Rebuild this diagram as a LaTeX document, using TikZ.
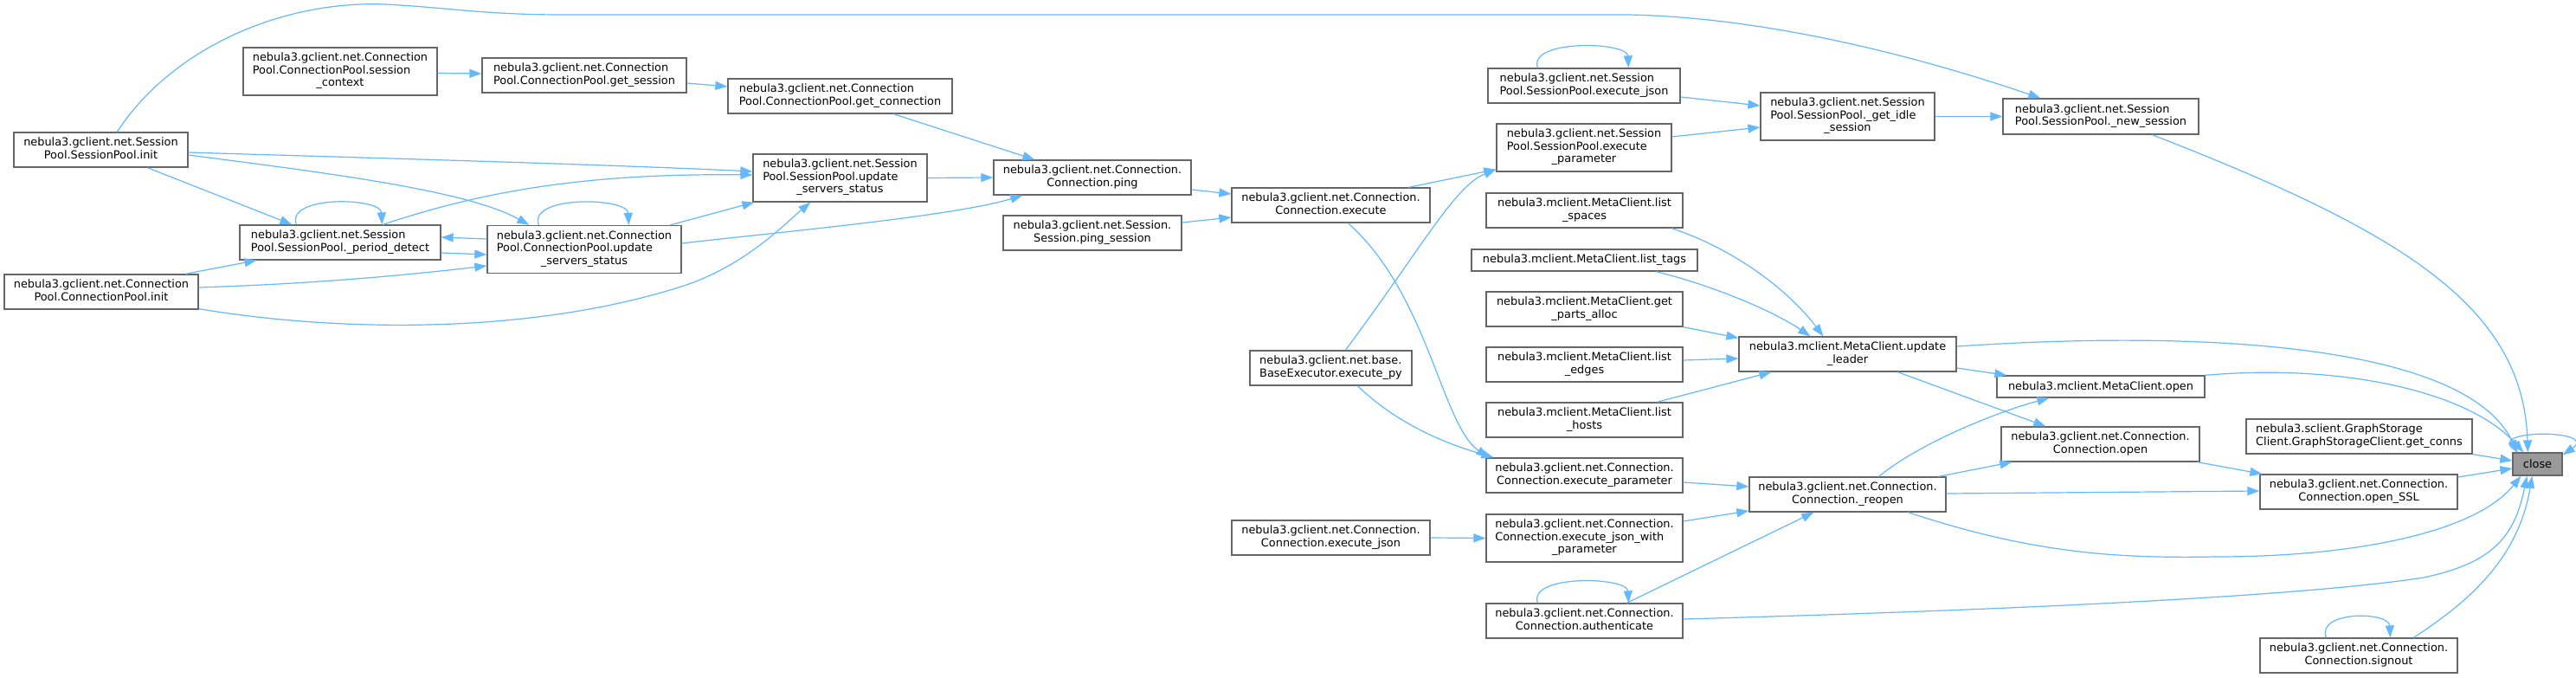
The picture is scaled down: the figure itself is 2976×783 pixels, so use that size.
\documentclass[tikz,border=0pt]{standalone}
\usepackage{fontspec}
\setmainfont{DejaVu Sans}
\usetikzlibrary{arrows.meta}
\definecolor{edgeblue}{HTML}{63B8FF}
\definecolor{nodeborder}{HTML}{666666}
\definecolor{rootfill}{HTML}{999999}
\newcommand{\twol}[2]{\begin{tabular}{@{}l@{}}#1\\\multicolumn{1}{@{}c@{}}{#2}\end{tabular}}
\tikzset{
  fnode/.style={draw=nodeborder, line width=1.3pt, fill=white, inner sep=0pt,
    font=\fontsize{12.9}{14.5}\selectfont, text=black},
  rootnode/.style={fnode, fill=rootfill},
  sz/.style 2 args={minimum width=#1pt, minimum height=#2pt},
  call/.style={draw=edgeblue, line width=1.2pt, -{Triangle[length=14pt,width=10pt]}},
}
\begin{document}
\begin{tikzpicture}[x=1pt,y=-1pt]
\fill[white] (0,0) rectangle (2976,783);
\useasboundingbox (0,0) rectangle (2976,783);
% nodes
\node[fnode, sz={201}{40}] (spinit) at (116.5,173) {\twol{nebula3.gclient.net.Session}{Pool.SessionPool.init}};
\node[fnode, sz={224}{55}] (sesctx) at (393,82.5) {\twol{nebula3.gclient.net.Connection\\Pool.ConnectionPool.session}{\_context}};
\node[fnode, sz={236}{40}] (getsess) at (675,87) {\twol{nebula3.gclient.net.Connection}{Pool.ConnectionPool.get\_session}};
\node[fnode, sz={259}{40}] (getconn) at (970.5,111) {\twol{nebula3.gclient.net.Connection}{Pool.ConnectionPool.get\_connection}};
\node[fnode, sz={201}{55}] (spuss) at (970.5,205.5) {\twol{nebula3.gclient.net.Session\\Pool.SessionPool.update}{\_servers\_status}};
\node[fnode, sz={232}{40}] (pdet) at (393,280) {\twol{nebula3.gclient.net.Session}{Pool.SessionPool.\_period\_detect}};
\node[fnode, sz={224}{55}] (cpuss) at (675,288) {\twol{nebula3.gclient.net.Connection\\Pool.ConnectionPool.update}{\_servers\_status}};
\node[fnode, sz={224}{40}] (cpinit) at (117,337) {\twol{nebula3.gclient.net.Connection}{Pool.ConnectionPool.init}};
\node[fnode, sz={228}{40}] (ping) at (1262,205) {\twol{nebula3.gclient.net.Connection.}{Connection.ping}};
\node[fnode, sz={206}{40}] (pingsess) at (1262,269) {\twol{nebula3.gclient.net.Session.}{Session.ping\_session}};
\node[fnode, sz={229}{40}] (execute) at (1537.5,237) {\twol{nebula3.gclient.net.Connection.}{Connection.execute}};
\node[fnode, sz={222}{40}] (spejson) at (1830,99) {\twol{nebula3.gclient.net.Session}{Pool.SessionPool.execute\_json}};
\node[fnode, sz={202}{55}] (spepar) at (1830,170.5) {\twol{nebula3.gclient.net.Session\\Pool.SessionPool.execute}{\_parameter}};
\node[fnode, sz={227}{40}] (lspaces) at (1830.5,243) {\twol{nebula3.mclient.MetaClient.list}{\_spaces}};
\node[fnode, sz={261}{25}] (ltags) at (1830.5,300.5) {nebula3.mclient.MetaClient.list\_tags};
\node[fnode, sz={227}{40}] (partsalloc) at (1830.5,357) {\twol{nebula3.mclient.MetaClient.get}{\_parts\_alloc}};
\node[fnode, sz={227}{40}] (ledges) at (1830.5,421) {\twol{nebula3.mclient.MetaClient.list}{\_edges}};
\node[fnode, sz={227}{40}] (lhosts) at (1830.5,485) {\twol{nebula3.mclient.MetaClient.list}{\_hosts}};
\node[fnode, sz={227}{40}] (cepar) at (1830.5,549) {\twol{nebula3.gclient.net.Connection.}{Connection.execute\_parameter}};
\node[fnode, sz={227}{55}] (cejwp) at (1830.5,621.5) {\twol{nebula3.gclient.net.Connection.\\Connection.execute\_json\_with}{\_parameter}};
\node[fnode, sz={227}{40}] (auth) at (1830.5,717) {\twol{nebula3.gclient.net.Connection.}{Connection.authenticate}};
\node[fnode, sz={187}{40}] (execpy) at (1537.5,425) {\twol{nebula3.gclient.net.base.}{BaseExecutor.execute\_py}};
\node[fnode, sz={229}{40}] (cejson) at (1537.5,621) {\twol{nebula3.gclient.net.Connection.}{Connection.execute\_json}};
\node[fnode, sz={201}{55}] (getidle) at (2134.5,134.5) {\twol{nebula3.gclient.net.Session\\Pool.SessionPool.\_get\_idle}{\_session}};
\node[fnode, sz={226}{41}] (newsess) at (2427,134.5) {\twol{nebula3.gclient.net.Session}{Pool.SessionPool.\_new\_session}};
\node[fnode, sz={251}{40}] (updleader) at (2134.5,409) {\twol{nebula3.mclient.MetaClient.update}{\_leader}};
\node[fnode, sz={240}{25}] (mcopen) at (2427,446.5) {nebula3.mclient.MetaClient.open};
\node[fnode, sz={229}{40}] (copen) at (2426.5,513) {\twol{nebula3.gclient.net.Connection.}{Connection.open}};
\node[fnode, sz={261}{40}] (getconns) at (2725.5,504) {\twol{nebula3.sclient.GraphStorage}{Client.GraphStorageClient.get\_conns}};
\node[rootnode, sz={57}{26}] (close) at (2931.5,536) {close};
\node[fnode, sz={228}{40}] (openssl) at (2725,568) {\twol{nebula3.gclient.net.Connection.}{Connection.open\_SSL}};
\node[fnode, sz={227}{40}] (reopen) at (2134.5,571) {\twol{nebula3.gclient.net.Connection.}{Connection.\_reopen}};
\node[fnode, sz={228}{40}] (signout) at (2725,757) {\twol{nebula3.gclient.net.Connection.}{Connection.signout}};
% edges
\draw[call] ([xshift=120pt]spinit.north west) .. controls (195,60) and (320,0) .. (446,5) .. controls (520,9) and (560,17) .. (650,17) -- (1880,17) .. controls (2050,20) and (2230,70) .. ([xshift=44pt]newsess.north west);
\draw[call] ([yshift=-3pt]spinit.east) .. controls (450,183) and (700,190) .. ([yshift=7.5pt]spuss.west);
\draw[call] ([yshift=-6pt]spinit.east) .. controls (380,200) and (540,220) .. ([xshift=49pt]cpuss.north west);
\draw[call] ([xshift=155pt]spinit.south west) -- ([xshift=61pt]pdet.north west);
\draw[call] ([xshift=66pt]pdet.north west) .. controls (330,225) and (440,228) .. ([xshift=165pt]pdet.north west);
\draw[call] ([xshift=166pt]pdet.north west) .. controls (560,220) and (680,200) .. ([yshift=3.5pt]spuss.west);
\draw[call] ([yshift=12pt]cpuss.west) -- ([yshift=6pt]pdet.east);
\draw[call] ([yshift=-12pt]pdet.east) -- ([yshift=-6pt]cpuss.west);
\draw[call] ([xshift=60pt]cpuss.north west) .. controls (610,225) and (725,228) .. ([xshift=164pt]cpuss.north west);
\draw[call] ([xshift=212pt]cpuss.north west) -- ([xshift=2pt]spuss.south west);
\draw[call] ([yshift=7pt]cpuss.east) .. controls (900,268) and (1100,250) .. ([xshift=34pt]ping.south west);
\draw[call] ([xshift=210pt]cpinit.north west) -- ([xshift=20pt]pdet.south west);
\draw[call] ([yshift=5pt]cpinit.east) .. controls (350,328) and (450,320) .. ([yshift=-19pt]cpuss.west);
\draw[call] ([yshift=1pt]cpinit.south east) .. controls (400,385) and (620,385) .. (790,330) .. controls (860,307) and (905,260) .. ([xshift=67pt]spuss.south west);
\draw[call] ([yshift=-2pt]sesctx.east) -- ([yshift=2pt]getsess.west);
\draw[call] ([yshift=-9pt]getsess.east) -- ([yshift=11pt]getconn.west);
\draw[call] ([xshift=192pt]getconn.south west) -- ([xshift=48pt]ping.north west);
\draw[call] (spuss.east) -- (ping.west);
\draw[call] ([yshift=-14pt]ping.east) -- ([yshift=13pt]execute.west);
\draw[call] ([yshift=12pt]pingsess.east) -- ([yshift=-14pt]execute.west);
\draw[call] ([xshift=205pt]execute.north west) -- ([yshift=3pt]spepar.south west);
\draw[call] ([xshift=111pt]execpy.north west) .. controls (1640,290) and (1680,215) .. ([yshift=3pt]spepar.south west);
\draw[call] ([xshift=135pt]execute.south west) .. controls (1650,340) and (1665,490) .. ([xshift=3pt]cepar.north west);
\draw[call] ([xshift=125pt]execpy.south west) .. controls (1620,495) and (1680,515) .. ([xshift=9pt]cepar.north west);
\draw[call] ([xshift=58pt]spejson.north west) .. controls (1765,45) and (1880,48) .. ([xshift=163pt]spejson.north west);
\draw[call] ([yshift=-13pt]spejson.east) -- ([yshift=12.5pt]getidle.west);
\draw[call] ([yshift=12.5pt]spepar.east) -- ([yshift=-12.5pt]getidle.west);
\draw[call] (getidle.east) -- (newsess.west);
\draw[call] ([xshift=173pt]newsess.south west) .. controls (2773,267) and (2915,353) .. ([xshift=18pt]close.north west);
\draw[call] ([xshift=215pt]lspaces.south west) .. controls (2010,290) and (2070,340) .. ([xshift=98pt]updleader.north west);
\draw[call] ([xshift=214pt]ltags.south west) .. controls (1980,330) and (2050,360) .. ([xshift=83pt]updleader.north west);
\draw[call] (partsalloc.south east) -- ([yshift=-2pt]updleader.north west);
\draw[call] ([yshift=5pt]ledges.east) -- ([yshift=-5pt]updleader.west);
\draw[call] ([xshift=198pt]lhosts.north west) -- ([xshift=38pt]updleader.south west);
\draw[call] ([yshift=9pt]updleader.east) .. controls (2560,380) and (2850,400) .. ([xshift=6pt]close.north west);
\draw[call] ([yshift=-16pt]updleader.east) -- ([xshift=12pt]mcopen.north west);
\draw[call] ([xshift=184pt]updleader.south west) -- ([xshift=52pt]copen.north west);
\draw[call] (mcopen.north east) .. controls (2700,420) and (2850,450) .. ([xshift=13pt]close.north west);
\draw[call] ([xshift=150pt]reopen.north west) .. controls (2220,510) and (2310,475) .. ([xshift=61pt]mcopen.south west);
\draw[call] ([xshift=219pt]reopen.north west) -- ([xshift=13pt]copen.south west);
\draw[call] ([xshift=-3pt]copen.south east) -- ([xshift=3pt]openssl.north west);
\draw[call] ([yshift=1pt]reopen.east) -- ([yshift=1pt]openssl.west);
\draw[call] ([xshift=184pt]reopen.south west) .. controls (2350,640) and (2450,645) .. (2560,643) .. controls (2720,643) and (2860,615) .. ([xshift=10pt]close.south west);
\draw[call] (getconns.south east) -- ([yshift=4pt]close.west);
\draw[call] ([yshift=17pt]openssl.east) -- ([yshift=-5pt]close.west);
\draw[call] ([yshift=-8pt]cepar.east) -- ([yshift=9pt]reopen.west);
\draw[call] ([yshift=19.5pt]cejwp.east) -- ([yshift=-19pt]reopen.west);
\draw[call] (cejson.east) -- (cejwp.west);
\draw[call] ([xshift=163pt]auth.north west) -- ([xshift=75pt]reopen.south west);
\draw[call] ([xshift=60pt]auth.north west) .. controls (1765,663) and (1880,666) .. ([xshift=165pt]auth.north west);
\draw[call] ([yshift=2pt]auth.east) .. controls (2300,705) and (2650,690) .. (2800,667) .. controls (2880,650) and (2905,620) .. ([xshift=17pt]close.south west);
\draw[call] ([xshift=77pt]signout.north west) .. controls (2676,705) and (2760,706) .. ([xshift=151pt]signout.north west);
\draw[call] ([xshift=178pt]signout.north west) .. controls (2860,690) and (2910,640) .. ([xshift=23pt]close.south west);
\draw[call] ([xshift=7pt]close.north west) .. controls (2860,495) and (3005,495) .. ([yshift=-3pt]close.north east);
\end{tikzpicture}
\end{document}
